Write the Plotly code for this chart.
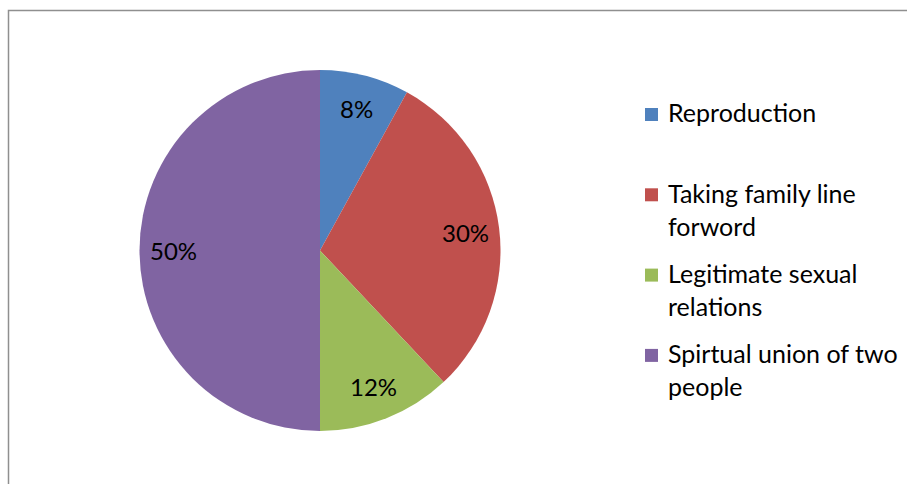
import math
import plotly.graph_objects as go

# Survey responses: meaning of marriage
categories = ["Reproduction", "Taking family line forword", "Legitimate sexual relations",
              "Spirtual union of two people"]
legend_lines = [["Reproduction"], ["Taking family line", "forword"],
                ["Legitimate sexual", "relations"], ["Spirtual union of two", "people"]]
shares = [8, 30, 12, 50]
colors = ["#4F81BD", "#C0504D", "#9BBB59", "#8064A2"]

W, H = 907, 484
FONT = "Lato"
FS_PCT = 24
FS_LEG = 25

# pie geometry in pixels
cx, cy, R = 320.0, 250.5, 180.5


def px(x):
    return x / W


def py(y):
    return 1 - y / H


fig = go.Figure(go.Pie(
    labels=categories,
    values=shares,
    sort=False,
    direction="clockwise",
    rotation=0,
    marker=dict(colors=colors, line=dict(width=0)),
    textinfo="none",
    hoverinfo="label+percent",
    domain=dict(x=[px(cx - R), px(cx + R)], y=[py(cy + R), py(cy - R)]),
    showlegend=False,
))

annotations = []
shapes = []

# percentage labels placed along each slice's mid-angle
total = sum(shares)
start = 0.0
for v in shares:
    mid = start + v / total * 360 / 2
    start += v / total * 360
    a = math.radians(mid)
    r_lab = 0.81 * R
    lx = cx + r_lab * math.sin(a)
    ly = cy - r_lab * math.cos(a)
    annotations.append(dict(
        x=px(lx), y=py(ly), xref="paper", yref="paper",
        text=f"{round(v / total * 100)}%", showarrow=False,
        xanchor="center", yanchor="middle",
        font=dict(family=FONT, size=FS_PCT, color="#000000"),
    ))

# legend drawn as squares plus wrapped text
leg_x_sq, sq = 645, 13
leg_x_txt = 666
leg_y0, leg_dy = 114.5, 80.3
line_h = 1.3 * FS_LEG
for i, (lines, c) in enumerate(zip(legend_lines, colors)):
    yc = leg_y0 + i * leg_dy
    shapes.append(dict(
        type="rect", xref="paper", yref="paper",
        x0=px(leg_x_sq), x1=px(leg_x_sq + sq),
        y0=py(yc + sq / 2), y1=py(yc - sq / 2),
        fillcolor=c, line=dict(width=0),
    ))
    annotations.append(dict(
        x=px(leg_x_txt), y=py(yc - line_h / 2 - 3), xref="paper", yref="paper",
        text="<br>".join(lines), showarrow=False,
        xanchor="left", yanchor="top", align="left",
        font=dict(family=FONT, size=FS_LEG, color="#000000"),
    ))

# chart area frame
shapes.append(dict(
    type="rect", xref="paper", yref="paper",
    x0=px(8.5), x1=px(W + 20), y0=py(H + 20), y1=py(10.5),
    line=dict(color="#8f8f8f", width=1.5), fillcolor="rgba(0,0,0,0)",
    layer="above",
))

fig.update_layout(
    width=W, height=H,
    margin=dict(l=0, r=0, t=0, b=0),
    paper_bgcolor="#ffffff",
    plot_bgcolor="#ffffff",
    annotations=annotations,
    shapes=shapes,
    font=dict(family=FONT, size=FS_LEG),
)

fig.write_html("out.html")
